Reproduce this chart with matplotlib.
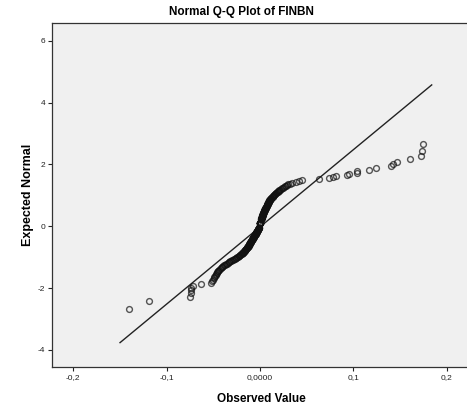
from statistics import NormalDist

import numpy as np
import pandas as pd
import matplotlib
matplotlib.use("Agg")
import matplotlib.pyplot as plt

plt.rcParams["font.family"] = ["Liberation Sans", "DejaVu Sans"]
plt.rcParams["axes.unicode_minus"] = False

# -----------------------------
# Data: FINBN observations (sorted)
# -----------------------------
low_tail = [-0.1407, -0.1190, -0.0745, -0.0742, -0.0740, -0.0736, -0.0715, -0.0630]

neg_body = [
    -0.0525, -0.0515, -0.0505, -0.0497, -0.0488, -0.0480, -0.0474, -0.0468,
    -0.0462, -0.0456, -0.0451, -0.0445, -0.0436, -0.0428, -0.0420, -0.0411,
    -0.0403, -0.0394, -0.0385, -0.0376, -0.0365, -0.0355, -0.0346, -0.0336,
    -0.0327, -0.0317, -0.0308, -0.0299, -0.0290, -0.0281, -0.0270, -0.0259,
    -0.0252, -0.0244, -0.0237, -0.0230, -0.0223, -0.0217, -0.0210, -0.0204,
    -0.0197, -0.0191, -0.0187, -0.0183, -0.0178, -0.0174, -0.0170, -0.0166,
    -0.0163, -0.0159, -0.0156, -0.0152,
    -0.0149, -0.0146, -0.0143, -0.0140, -0.0137, -0.0134, -0.0131, -0.0129,
    -0.0126, -0.0123, -0.0121, -0.0119, -0.0117, -0.0114, -0.0112, -0.0110,
    -0.0108, -0.0105, -0.0103, -0.0101, -0.0099, -0.0097, -0.0094, -0.0092,
    -0.0090, -0.0088, -0.0086, -0.0084, -0.0082, -0.0080, -0.0078, -0.0076,
    -0.0074, -0.0072, -0.0070, -0.0068, -0.0066, -0.0064, -0.0062, -0.0060,
    -0.0058, -0.0056, -0.0053, -0.0051, -0.0049, -0.0047, -0.0045, -0.0044,
    -0.0042, -0.0040, -0.0038, -0.0036, -0.0035, -0.0033, -0.0031, -0.0029,
    -0.0027, -0.0026, -0.0024, -0.0022, -0.0020, -0.0018, -0.0017, -0.0015,
    -0.0013, -0.0011, -0.0008, -0.0006,
]

zero_days = [0.0] * 25

pos_body = [
    0.0010, 0.0011, 0.0012, 0.0013, 0.0014, 0.0016, 0.0017,
    0.0018, 0.0019, 0.0020, 0.0022, 0.0023, 0.0024, 0.0025, 0.0026, 0.0028, 0.0029,
    0.0030, 0.0031, 0.0032, 0.0033, 0.0034, 0.0036, 0.0038, 0.0040, 0.0042, 0.0044,
    0.0045, 0.0047, 0.0048, 0.0050, 0.0051, 0.0053, 0.0055, 0.0057, 0.0058, 0.0060,
    0.0062, 0.0064, 0.0066, 0.0068, 0.0070, 0.0072, 0.0074, 0.0076, 0.0078, 0.0080,
    0.0082, 0.0084, 0.0087, 0.0089, 0.0091, 0.0093, 0.0095, 0.0097, 0.0099, 0.0101,
    0.0104, 0.0108, 0.0111, 0.0115, 0.0118, 0.0123, 0.0128, 0.0134, 0.0139, 0.0144,
    0.0149, 0.0154, 0.0159, 0.0165, 0.0170, 0.0176, 0.0182, 0.0188, 0.0194, 0.0200,
    0.0207, 0.0215, 0.0222, 0.0234, 0.0245, 0.0255, 0.0265, 0.0277, 0.0290, 0.0305,
    0.0322, 0.0345,
]

high_tail = [
    0.0390, 0.0420, 0.0447, 0.0630, 0.0740, 0.0786, 0.0810, 0.0930, 0.0957, 0.1036,
    0.1043, 0.1170, 0.1240, 0.1400, 0.1430, 0.1468, 0.1610, 0.1730, 0.1740, 0.1750,
]

# x range covered by the reference line
line_x = [-0.150, 0.184]

x_ticks = [-0.2, -0.1, 0.0, 0.1, 0.2]
x_tick_labels = ["-0,2", "-0,1", "0,0000", "0,1", "0,2"]
y_ticks = [-4, -2, 0, 2, 4, 6]

# -----------------------------
# Expected normal values (rank / (n + 1), ties get the mean rank)
# -----------------------------
finbn = pd.Series(low_tail + neg_body + zero_days + pos_body + high_tail)
n = len(finbn)
ranks = finbn.rank(method="average")
nd = NormalDist()
expected = np.array([nd.inv_cdf(r / (n + 1)) for r in ranks])

mean = finbn.mean()
sd = finbn.std()
line_y = [(x - mean) / sd for x in line_x]

# -----------------------------
# Plot
# -----------------------------
fig = plt.figure(figsize=(4.67, 4.09), dpi=100)
ax = fig.add_axes([52 / 467, 42 / 409, 419 / 467, 344 / 409])
ax.set_facecolor("#f0f0f0")

ax.plot(line_x, line_y, color="#222222", lw=1.0, zorder=2)
# semi-transparent rings so overlapping points build up to solid black
ax.plot(finbn, expected, linestyle="none", marker="o", ms=4.2,
        mfc="none", mec="#111111", mew=1.0, alpha=0.7, zorder=3)

ax.set_xlim(-0.2229, 0.2261)
ax.set_ylim(-4.55, 6.57)
ax.set_xticks(x_ticks)
ax.set_xticklabels(x_tick_labels)
ax.set_yticks(y_ticks)

ax.tick_params(direction="out", length=3, width=0.8, colors="#222222",
               labelsize=6, pad=2)
for side in ["left", "bottom", "top", "right"]:
    ax.spines[side].set_color("#333333")
    ax.spines[side].set_linewidth(0.9)

ax.set_xlabel("Observed Value", fontsize=8.5, fontweight="bold", labelpad=9)
ax.set_ylabel("Expected Normal", fontsize=9, fontweight="bold", labelpad=3)
fig.text(241 / 467, 1 - 12 / 409, "Normal Q-Q Plot of FINBN",
         ha="center", va="center", fontsize=8.5, fontweight="bold")

fig.savefig("out.png", dpi=100)
